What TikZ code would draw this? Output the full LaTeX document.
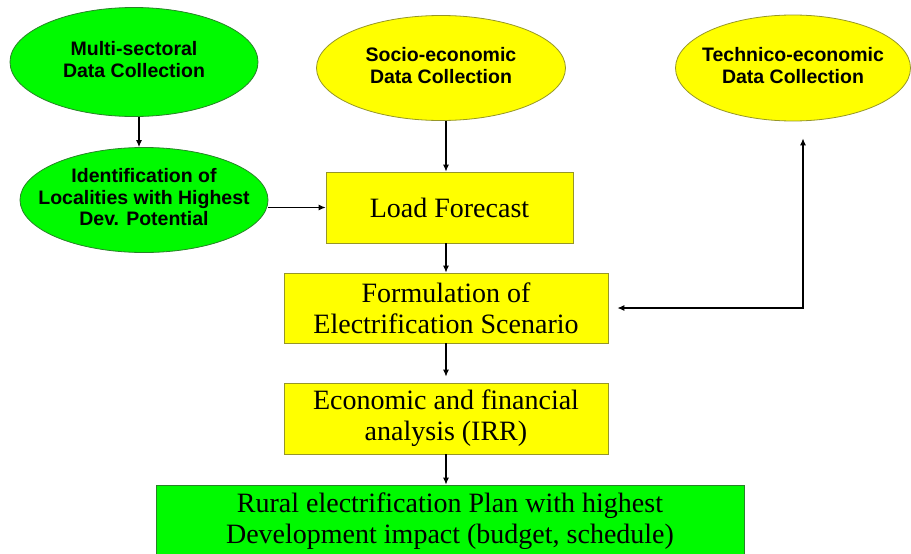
\documentclass[tikz,border=0pt]{standalone}
\usepackage{fontspec}
\setmainfont{Liberation Serif}
\setsansfont{Liberation Sans}
\usetikzlibrary{shapes.geometric,arrows.meta}
\definecolor{verde}{RGB}{0,250,0}
\definecolor{amarillo}{RGB}{255,255,0}
\definecolor{bordeverde}{RGB}{40,130,40}
\definecolor{bordeamarillo}{RGB}{150,150,40}
\newcommand{\lineas}[1]{\makebox[0pt]{\begin{tabular}{@{}c@{}}#1\end{tabular}}}

\begin{document}
\begin{tikzpicture}[x=1pt,y=-1pt,
  >={Latex[length=7pt,width=6pt]},
  elipse/.style={ellipse,inner sep=0pt,line width=0.8pt,
    font=\sffamily\bfseries\fontsize{19.5}{21.5}\selectfont},
  caja/.style={rectangle,inner sep=0pt,align=center,line width=0.8pt,
    fill=amarillo,draw=bordeamarillo,font=\fontsize{28}{31}\selectfont},
  flecha/.style={->,line width=1.1pt}]
\useasboundingbox (0,0) rectangle (911,554); % marco

% recoleccion de datos
\node[elipse,fill=verde,draw=bordeverde,minimum width=248pt,minimum height=109pt] (multi) at (134,62) {\lineas{Multi-sectoral\\Data Collection}};
\node[elipse,fill=verde,draw=bordeverde,minimum width=248pt,minimum height=105pt] (ident) at (144,200) {\lineas{Identification of\\Localities with Highest\\Dev. Potential}};
\node[elipse,fill=amarillo,draw=bordeamarillo,minimum width=249pt,minimum height=105pt] (socio) at (441,68) {\lineas{Socio-economic\\Data Collection}};
\node[elipse,fill=amarillo,draw=bordeamarillo,minimum width=235pt,minimum height=106pt] (tech) at (793,68)
  {\raisebox{8pt}{\lineas{Technico-economic\\Data Collection}}};

% cajas
\node[caja,minimum width=247pt,minimum height=71pt] (load) at (449.5,207.5) {Load Forecast};
\node[caja,minimum width=324pt,minimum height=70pt] (form) at (446,308) {Formulation of\\Electrification Scenario};
\node[caja,minimum width=324pt,minimum height=71pt] (econ) at (446,418.5) {Economic and financial\\analysis (IRR)};
\node[caja,fill=verde,draw=bordeverde,minimum width=588pt,minimum height=72pt] (plan) at (450,521) {Rural electrification Plan with highest\\Development impact (budget, schedule)};

\draw[flecha] ([xshift=5pt]multi.south) -- ([xshift=-5pt]ident.north);
\draw[flecha] (ident.east |- load) -- (load.west);
\draw[flecha] (socio.south -| form.north) -- (load.north -| form.north);
\draw[flecha] (load.south -| form.north) -- (form.north);
\draw[flecha,shorten >=6pt] (form.south) -- (econ.north);
\draw[flecha] (econ.south) -- (econ.south |- plan.north);
\draw[flecha,<->] ([xshift=9pt]form.east) -| ([xshift=10pt,yshift=-17pt]tech.south); % ida y vuelta
\end{tikzpicture}
\end{document}
